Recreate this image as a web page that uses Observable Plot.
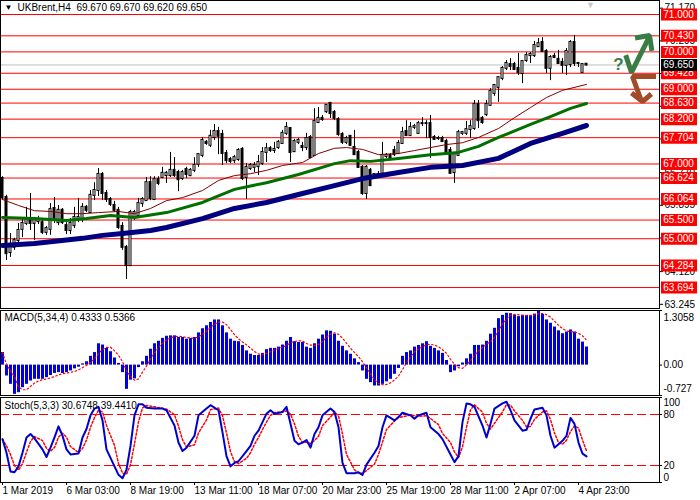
<!DOCTYPE html>
<html><head><meta charset="utf-8">
<script src="https://cdn.jsdelivr.net/npm/d3@7"></script>
<script src="https://cdn.jsdelivr.net/npm/@observablehq/plot@0.6"></script>
<style>
body{margin:0;background:#fff;}
#chart{position:relative;width:700px;height:500px;overflow:hidden;background:#fff;}
</style></head><body><div id="chart"></div>
<script>
// ---- Candles (UKBrent H4), bar index 0..146 ----
const openP = [66.61,66.10,64.63,64.77,64.95,65.25,65.41,65.54,65.41,65.46,
65.43,65.17,65.25,65.81,65.43,65.76,65.35,65.22,65.35,65.51,
65.54,65.84,65.70,66.16,66.29,66.72,66.21,66.05,65.89,65.76,
65.33,64.77,64.28,65.57,65.62,65.94,66.02,66.50,66.05,66.58,
66.64,66.69,66.69,66.83,66.77,66.61,66.85,66.69,66.83,66.99,
67.23,67.58,67.50,67.71,67.87,67.79,67.28,67.12,67.09,67.12,
67.39,66.64,66.88,66.91,66.93,67.01,67.31,67.41,67.36,67.44,
67.55,67.82,67.95,67.33,67.58,67.47,67.44,67.71,67.23,68.11,
68.22,68.40,68.62,68.38,68.19,67.79,67.58,67.74,67.44,67.31,
66.91,66.21,66.83,66.64,66.72,66.75,67.20,67.23,67.36,67.28,
67.55,67.87,67.76,67.98,67.82,68.08,68.08,68.08,67.71,67.68,
67.68,67.60,67.36,66.77,67.23,67.82,67.82,67.92,67.95,68.59,
68.22,68.32,68.57,68.89,69.05,69.29,69.56,69.66,69.66,69.56,
69.42,69.77,69.90,69.90,70.14,70.25,70.01,69.56,69.88,69.80,
69.72,69.64,69.66,70.25,69.69,69.45,69.67];
const highP = [66.66,66.16,65.14,65.01,65.41,65.54,65.84,66.21,65.57,65.60,
65.49,65.33,65.94,66.10,65.89,65.81,65.43,65.54,65.84,66.08,
65.94,65.89,66.29,66.50,66.88,66.77,66.29,66.10,66.00,65.84,
65.43,64.82,65.76,65.76,66.08,66.10,66.64,66.66,66.66,66.66,
66.91,66.80,67.31,67.17,66.83,66.83,66.91,66.88,67.17,67.28,
67.71,67.63,67.90,68.06,67.98,67.90,67.36,67.17,67.23,67.41,
67.44,67.01,67.01,67.04,67.23,67.44,67.55,67.47,67.58,67.63,
67.90,68.11,67.98,67.66,67.68,67.58,67.82,67.76,68.48,68.51,
68.30,68.59,68.65,68.43,68.24,67.84,67.74,67.76,67.90,67.36,
66.96,66.96,66.88,66.72,66.80,67.58,67.28,67.28,67.47,67.63,
67.98,68.16,68.11,68.06,68.14,68.24,68.16,68.30,67.76,67.74,
67.74,67.66,67.44,67.31,67.90,67.87,68.14,68.16,68.70,68.70,
68.27,68.70,69.02,69.13,69.34,69.61,69.77,69.82,69.72,69.96,
69.77,69.98,69.98,70.28,70.36,70.38,70.06,69.90,69.96,70.04,
69.82,70.09,70.30,70.44,69.72,69.69,69.67];
const lowP = [66.05,64.42,64.50,64.69,64.90,65.03,65.35,65.22,64.95,65.38,
65.11,65.09,65.09,65.41,65.35,65.38,65.11,65.11,65.27,65.43,
65.43,65.70,65.67,66.02,66.13,66.02,65.97,65.86,65.70,65.25,
64.69,63.91,64.26,65.49,65.57,65.84,66.00,66.02,66.02,66.42,
66.61,66.48,66.64,66.64,66.26,66.56,66.61,66.66,66.77,66.91,
67.17,67.50,67.44,67.63,67.25,66.96,67.01,67.01,67.01,67.07,
66.56,66.05,66.83,66.77,66.69,66.96,67.04,67.31,67.28,67.39,
67.55,67.76,67.04,67.31,67.52,67.33,67.36,67.15,67.20,68.08,
68.14,68.35,68.22,68.16,67.74,67.52,67.52,67.47,67.23,66.88,
66.16,66.05,66.40,66.61,66.66,66.72,67.15,67.15,67.20,67.25,
67.52,67.74,67.74,67.92,67.79,68.00,67.68,67.15,67.63,67.63,
67.58,67.28,66.72,66.48,67.20,67.76,67.76,67.68,67.90,67.95,
68.06,68.27,68.54,68.81,68.65,69.23,69.50,69.50,69.50,69.37,
69.15,69.72,69.69,69.85,70.12,69.98,69.42,69.23,69.82,69.66,
69.42,69.37,69.58,69.61,69.58,69.42,69.62];
const closeP = [66.10,64.60,64.77,64.95,65.22,65.41,65.54,65.41,65.51,65.51,
65.17,65.27,65.78,65.49,65.76,65.43,65.22,65.41,65.57,65.57,
65.84,65.76,66.16,66.29,66.72,66.21,66.05,65.92,65.76,65.30,
64.77,64.28,65.70,65.70,65.94,66.05,66.50,66.08,66.58,66.48,
66.75,66.75,66.83,66.69,66.58,66.77,66.72,66.83,66.96,67.25,
67.63,67.55,67.74,67.87,67.74,67.28,67.09,67.07,67.17,67.36,
66.61,66.91,66.96,66.96,67.04,67.31,67.41,67.36,67.39,67.58,
67.82,67.98,67.31,67.60,67.63,67.44,67.68,67.17,68.14,68.22,
68.19,68.57,68.35,68.22,67.79,67.58,67.68,67.50,67.25,66.91,
66.21,66.91,66.42,66.72,66.72,67.23,67.23,67.17,67.25,67.55,
67.84,67.76,67.98,68.00,68.08,68.08,68.08,67.71,67.66,67.68,
67.60,67.31,66.75,67.25,67.84,67.84,67.92,68.00,68.59,68.16,
68.11,68.59,68.94,69.10,69.31,69.56,69.69,69.61,69.53,69.45,
69.74,69.90,69.93,70.17,70.22,70.01,69.56,69.85,69.85,69.69,
69.64,70.01,70.25,69.69,69.69,69.66,69.65];

// ---- Moving averages (read at sample bars) ----
const maFastIdx = [0,4,8,12,16,20,24,29,33,37,41,45,50,54,58,62,66,70,75,79,83,86,90,94,99,103,107,111,115,119,124,128,132,136,140,146];
const maFast = [66.05,65.89,65.75,65.73,65.67,65.67,65.70,65.73,65.67,65.81,66.02,66.10,66.29,66.56,66.69,66.74,66.83,66.96,67.04,67.28,67.42,67.44,67.39,67.25,67.28,67.36,67.44,67.52,67.57,67.71,67.95,68.24,68.51,68.78,68.97,69.13];
const maMidIdx = [0,8,16,21,27,33,41,50,58,66,74,83,87,92,99,107,114,119,124,132,137,142,146];
const maMid = [65.57,65.54,65.49,65.54,65.62,65.57,65.70,65.97,66.32,66.50,66.72,67.01,67.09,67.07,67.15,67.25,67.31,67.47,67.71,68.06,68.27,68.49,68.62];
const maSlowIdx = [0,8,20,25,30,37,41,50,58,66,75,83,90,99,107,115,124,132,140,146];
const maSlow = [64.82,64.87,65.01,65.09,65.14,65.22,65.30,65.54,65.81,65.97,66.21,66.42,66.61,66.77,66.91,66.96,67.15,67.55,67.82,68.03];

// ---- Horizontal levels & price scale ----
const levelValues = [71.000,70.430,70.000,69.428,69.000,68.630,68.200,67.704,67.000,66.624,66.064,65.500,65.000,64.284,63.694];
const lastPrice = 69.650;
const priceTicks = [71.170,70.295,69.420,68.545,67.670,66.770,65.895,65.020,64.120,63.245];
const headerText = "UKBrent,H4\u00a0\u00a069.670 69.670 69.620 69.650";

// ---- MACD(5,34,4) histogram ----
const macdHist = [0.30,
-0.26,-0.46,-0.70,-0.66,-0.54,-0.46,-0.38,-0.34,-0.34,-0.34,-0.30,-0.25,-0.20,-0.18,-0.20,-0.18,-0.14,-0.09,-0.05,0.03,
0.08,0.21,0.30,0.51,0.48,0.40,0.32,0.17,0.04,
-0.18,-0.58,-0.36,-0.33,-0.06,
0.08,0.21,0.38,0.51,0.57,0.64,0.69,0.70,0.70,0.66,0.66,0.62,0.64,0.66,0.77,0.87,0.94,1.02,1.08,1.08,0.94,0.77,0.62,0.57,0.56,0.47,0.34,0.26,0.23,0.23,0.28,0.37,0.40,0.40,0.43,0.48,0.57,0.66,0.56,0.54,0.54,0.43,0.40,0.51,0.62,0.72,0.82,0.81,0.74,0.57,0.45,0.34,0.26,0.15,0.06,
-0.14,-0.34,-0.42,-0.50,-0.50,-0.46,-0.40,-0.34,-0.22,-0.08,
0.21,0.30,0.34,0.43,0.47,0.51,0.56,0.45,0.40,0.34,0.28,0.11,
-0.18,-0.14,-0.04,
0.05,0.15,0.26,0.47,0.47,0.48,0.57,0.74,0.88,1.11,1.19,1.24,1.23,1.19,1.16,1.19,1.19,1.19,1.22,1.3058,1.21,1.08,1.00,0.91,0.82,0.75,0.79,0.84,0.79,0.62,0.55,0.4333];
const macdTicks = [1.3058, 0, -0.727];

// ---- Stochastic(5,3,3) %K ----
const stochIdx = [0,1,2,3,4,5,6,7,8,10,11,12,13,14,15,16,17,19,20,21,22,23,24,25,26,28,29,30,31,32,33,34,35,36,38,40,41,43,44,45,46,48,49,51,52,54,55,56,57,58,59,61,62,63,64,65,66,67,68,70,71,72,73,74,75,76,77,78,79,80,82,83,84,85,86,88,89,90,91,93,94,95,96,98,99,100,102,103,104,106,107,109,110,112,113,114,115,116,117,118,120,121,122,123,125,126,127,128,130,131,132,133,135,136,137,138,139,140,141,142,143,144,145,146];
const stochK = [51,35,13,12,19,35,53,57,52,39,30,41,53,66,55,39,33,34,53,63,79,87,89,73,39,19,9,5,15,43,79,92,92,88,87,87,85,67,47,37,41,55,79,87,91,85,59,31,19,23,25,37,43,55,61,71,81,85,81,83,89,69,49,45,47,50,41,57,65,79,87,83,65,23,11,11,12,9,21,35,43,65,79,73,77,82,79,75,79,82,65,57,51,33,24,31,71,93,92,89,67,53,69,87,93,95,85,73,61,62,75,86,88,79,55,41,45,49,55,76,69,47,34,30.67];
const stochLevels = [80, 20];

// ---- Time axis ----
const timeTickIdx = [0,16,32,48,64,80,96,112,128,144];
const timeTickText = ["1 Mar 2019","6 Mar 03:00","8 Mar 19:00","13 Mar 11:00","18 Mar 07:00","20 Mar 23:00","25 Mar 19:00","28 Mar 11:00","2 Apr 07:00","4 Apr 23:00"];

// ---- Signal drawing (annotation, in bar / price units) ----
const upArrowI = [156, 157.25, 161.5], upArrowP = [69.85, 69.45, 70.36];
const upHeadI = [158.75, 161.75, 162.25], upHeadP = [70.385, 70.44, 70.09];
const downArrowI = [162.75, 157.5, 159.5], downArrowP = [69.34, 69.34, 68.75];
const downHeadI = [157.75, 160, 161.75], downHeadP = [68.86, 68.67, 68.83];

// ================= drawing =================
const root = document.getElementById("chart");
const font = '"Liberation Sans", Arial, sans-serif';
const baseStyle = {fontFamily: font, fontSize: "10px", background: "transparent", color: "black", overflow: "visible"};
const xDomain = [-0.5, 164.25];
const labX1 = 164.75, labX2 = 173.75, labTextX = 165.2, axisEdge = 164.25;
function place(el, top) { el.style.position = "absolute"; el.style.left = "0px"; el.style.top = top + "px"; el.style.overflow = "visible"; root.appendChild(el); }

const bars = openP.map((o, i) => ({i, o, h: highP[i], l: lowP[i], c: closeP[i]}));
const seq = (I, V) => I.map((x, k) => ({x, y: V[k]}));

const mainChart = Plot.plot({
  width: 700, height: 309, marginLeft: 0, marginRight: 41, marginTop: 0, marginBottom: 1,
  style: baseStyle,
  x: {domain: xDomain, axis: null},
  y: {domain: [63.133, 71.375]},
  marks: [
    Plot.ruleY([lastPrice], {stroke: "#c0c0c0"}),
    Plot.ruleY(levelValues, {stroke: "#ff0000"}),
    Plot.ruleX(bars, {x: "i", y1: "l", y2: "h", stroke: "black"}),
    Plot.rect(bars, {filter: d => d.c > d.o, x1: d => d.i - 0.25, x2: d => d.i + 0.25, y1: "o", y2: "c", fill: "white", stroke: "black", insetTop: -0.5, insetBottom: -0.5}),
    Plot.rect(bars, {filter: d => d.c <= d.o, x1: d => d.i - 0.25, x2: d => d.i + 0.25, y1: "o", y2: "c", fill: "black", stroke: "black", insetTop: -0.5, insetBottom: -0.5}),
    Plot.line(seq(maFastIdx, maFast), {x: "x", y: "y", stroke: "#800000", strokeWidth: 1}),
    Plot.line(seq(maMidIdx, maMid), {x: "x", y: "y", stroke: "#007000", strokeWidth: 3}),
    Plot.line(seq(maSlowIdx, maSlow), {x: "x", y: "y", stroke: "#000080", strokeWidth: 5}),
    Plot.line(seq(upArrowI, upArrowP), {x: "x", y: "y", stroke: "#3a7d44", strokeWidth: 5, strokeLinejoin: "miter", strokeLinecap: "square"}),
    Plot.line(seq(upHeadI, upHeadP), {x: "x", y: "y", stroke: "#3a7d44", strokeWidth: 5, strokeLinejoin: "miter", strokeLinecap: "square"}),
    Plot.line(seq(downArrowI, downArrowP), {x: "x", y: "y", stroke: "#a24b2a", strokeWidth: 5, strokeLinejoin: "miter", strokeLinecap: "square"}),
    Plot.line(seq(downHeadI, downHeadP), {x: "x", y: "y", stroke: "#a24b2a", strokeWidth: 5, strokeLinejoin: "miter", strokeLinecap: "square"}),
    Plot.text(["?"], {x: 154, y: 69.65, fill: "#3a7d44", fontSize: 17, fontWeight: "bold"}),
    Plot.frame({stroke: "black"}),
    Plot.axisY({anchor: "right", label: null, ticks: priceTicks, tickFormat: d => d.toFixed(3), tickSize: 3, tickPadding: 2}),
    Plot.ruleY(levelValues, {x1: labX1, x2: labX2, stroke: "#ff0000", strokeWidth: 12}),
    Plot.text(levelValues, {x: labTextX, y: d => d, text: d => d.toFixed(3), fill: "white", textAnchor: "start"}),
    Plot.ruleY([lastPrice], {x1: labX1, x2: labX2, stroke: "black", strokeWidth: 12}),
    Plot.text([lastPrice], {x: labTextX, y: d => d, text: d => d.toFixed(3), fill: "white", textAnchor: "start"}),
    Plot.text(["\u25BC"], {frameAnchor: "top-left", dx: 4, dy: 4, lineAnchor: "top", textAnchor: "start", fontSize: 8}),
    Plot.text([headerText], {frameAnchor: "top-left", dx: 17, dy: 3, lineAnchor: "top", textAnchor: "start", fontSize: 10}),
    Plot.text(["\u25BC"], {x: 147, frameAnchor: "top", dy: 1, lineAnchor: "top", fill: "#c8c8c8", fontSize: 9})
  ]
});
place(mainChart, 0);

const macdChart = Plot.plot({
  width: 700, height: 86, marginLeft: 0, marginRight: 41, marginTop: 0, marginBottom: 1,
  style: baseStyle,
  x: {domain: xDomain, axis: null},
  y: {domain: [-0.727, 1.3058], axis: null},
  marks: [
    Plot.ruleX(macdHist, {x: (d, i) => i, y1: 0, y2: d => d, stroke: "#0000e0", strokeWidth: 3}),
    Plot.line(macdHist, Plot.windowY({k: 4, anchor: "end"}, {x: (d, i) => i, y: d => d, stroke: "#ff0000", strokeWidth: 1.2, strokeDasharray: "1.5,2.5"})),
    Plot.frame({stroke: "black"}),
    Plot.ruleY(macdTicks, {x1: axisEdge, x2: 165, stroke: "black"}),
    Plot.text([macdTicks[0]], {x: axisEdge, y: d => d, dx: 4, dy: 7, text: d => d.toFixed(4), textAnchor: "start"}),
    Plot.text([macdTicks[1]], {x: axisEdge, y: d => d, dx: 4, text: d => d.toFixed(2), textAnchor: "start"}),
    Plot.text([macdTicks[2]], {x: axisEdge, y: d => d, dx: 4, dy: -7, text: d => d.toFixed(3), textAnchor: "start"}),
    Plot.text(["MACD(5,34,4) 0.4333 0.5366"], {frameAnchor: "top-left", dx: 4, dy: 3, lineAnchor: "top", textAnchor: "start"})
  ]
});
place(macdChart, 310);

const labelMap = new Map(timeTickIdx.map((t, k) => [t, timeTickText[k]]));
const stochData = seq(stochIdx, stochK);
const stochChart = Plot.plot({
  width: 700, height: 103, marginLeft: 0, marginRight: 41, marginTop: 0, marginBottom: 18,
  style: baseStyle,
  x: {domain: xDomain, label: null},
  y: {domain: [0, 100], axis: null},
  marks: [
    Plot.ruleY(stochLevels, {stroke: "#ff0000", strokeDasharray: "9,4"}),
    Plot.line(stochData, Plot.windowY({k: 3, anchor: "end"}, {x: "x", y: "y", stroke: "#ff0000", strokeDasharray: "2,2"})),
    Plot.line(stochData, {x: "x", y: "y", stroke: "#0000cd", strokeWidth: 2}),
    Plot.frame({stroke: "black"}),
    Plot.axisX({label: null, ticks: timeTickIdx, tickFormat: d => labelMap.get(d), tickSize: 3, tickPadding: 1, textAnchor: "start", dx: 0}),
    Plot.ruleY([100, 80, 20, 0], {x1: axisEdge, x2: 165, stroke: "black"}),
    Plot.text([100], {x: axisEdge, y: d => d, dx: 4, dy: 5, text: d => String(d), textAnchor: "start"}),
    Plot.text(stochLevels, {x: axisEdge, y: d => d, dx: 4, text: d => String(d), textAnchor: "start"}),
    Plot.text([0], {x: axisEdge, y: d => d, dx: 4, dy: -5, text: d => String(d), textAnchor: "start"}),
    Plot.text(["Stoch(5,3,3) 30.6748 39.4410"], {frameAnchor: "top-left", dx: 4, dy: 4, lineAnchor: "top", textAnchor: "start"})
  ]
});
place(stochChart, 397);
</script>
</body></html>
